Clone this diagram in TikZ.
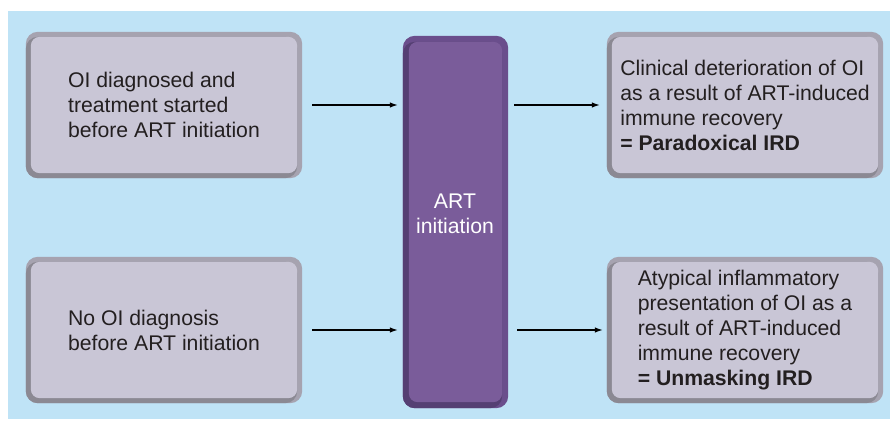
\documentclass[tikz,border=0pt]{standalone}
\usepackage{fontspec}
\setmainfont{Liberation Sans}
\usetikzlibrary{arrows.meta,backgrounds}
\definecolor{bgblue}{RGB}{191,227,246}
\definecolor{gfill}{RGB}{201,198,214}
\definecolor{glight}{RGB}{166,163,176}
\definecolor{gdark}{RGB}{139,137,147}
\definecolor{pfill}{RGB}{122,92,154}
\definecolor{plight}{RGB}{106,78,140}
\definecolor{pdark}{RGB}{85,63,115}
\definecolor{txt}{RGB}{35,31,32}
\newcommand\bevelbox[5]{%
  \fill[#2, rounded corners=12pt] (#1.south west) rectangle (#1.north east);
  \fill[#3, rounded corners=12pt] (#1.south west) rectangle ([xshift=-#5,yshift=-#5]#1.north east);
  \fill[#4, rounded corners=9pt] ([xshift=#5,yshift=#5]#1.south west) rectangle ([xshift=-#5,yshift=-#5]#1.north east);
}
\tikzset{
  gbox/.style={minimum width=276pt, minimum height=146pt, inner sep=0pt, align=left,
    text=txt, font=\fontsize{21.2}{25}\selectfont},
  pbox/.style={minimum width=105pt, minimum height=372pt, inner sep=0pt},
  arttext/.style={align=center, text=white, inner sep=0pt, font=\fontsize{21.2}{25}\selectfont},
  arr/.style={-{Latex[length=8pt,width=5.5pt]}, line width=1.2pt, black},
}
\begin{document}
\begin{tikzpicture}[x=1pt,y=-1pt]
\useasboundingbox (0,0) rectangle (890,420);
\node[gbox] (b1) at (164,105) {OI diagnosed and\\treatment started\\before ART initiation};
\node[gbox] (b2) at (164,330) {No OI diagnosis\\before ART initiation};
\node[pbox] (art) at (455.5,222) {};
\node[arttext] (artt) at (455,214) {ART\\initiation};
\node[gbox] (r1) at (745,105) {Clinical deterioration of OI\\as a result of ART-induced\\immune recovery\\\textbf{= Paradoxical IRD}};
\node[gbox] (r2) at (745,330) {Atypical inflammatory\\presentation of OI as a\\result of ART-induced\\immune recovery\\\textbf{= Unmasking IRD}};
\begin{scope}[on background layer]
  \fill[bgblue] (8,11) rectangle (890,419);
  \bevelbox{b1}{glight}{gdark}{gfill}{5pt}
  \bevelbox{b2}{glight}{gdark}{gfill}{5pt}
  \bevelbox{r1}{glight}{gdark}{gfill}{5pt}
  \bevelbox{r2}{glight}{gdark}{gfill}{5pt}
  \bevelbox{art}{plight}{pdark}{pfill}{6pt}
\end{scope}
\draw[arr] ([xshift=10pt]b1.east) -- ([xshift=-5pt]b1.east -| art.west);
\draw[arr] ([xshift=10pt]b2.east) -- ([xshift=-5pt]b2.east -| art.west);
\draw[arr] ([xshift=6pt]r1.west -| art.east) -- ([xshift=-7pt]r1.west);
\draw[arr] ([xshift=9pt]r2.west -| art.east) -- ([xshift=-4pt]r2.west);
\end{tikzpicture}
\end{document}
